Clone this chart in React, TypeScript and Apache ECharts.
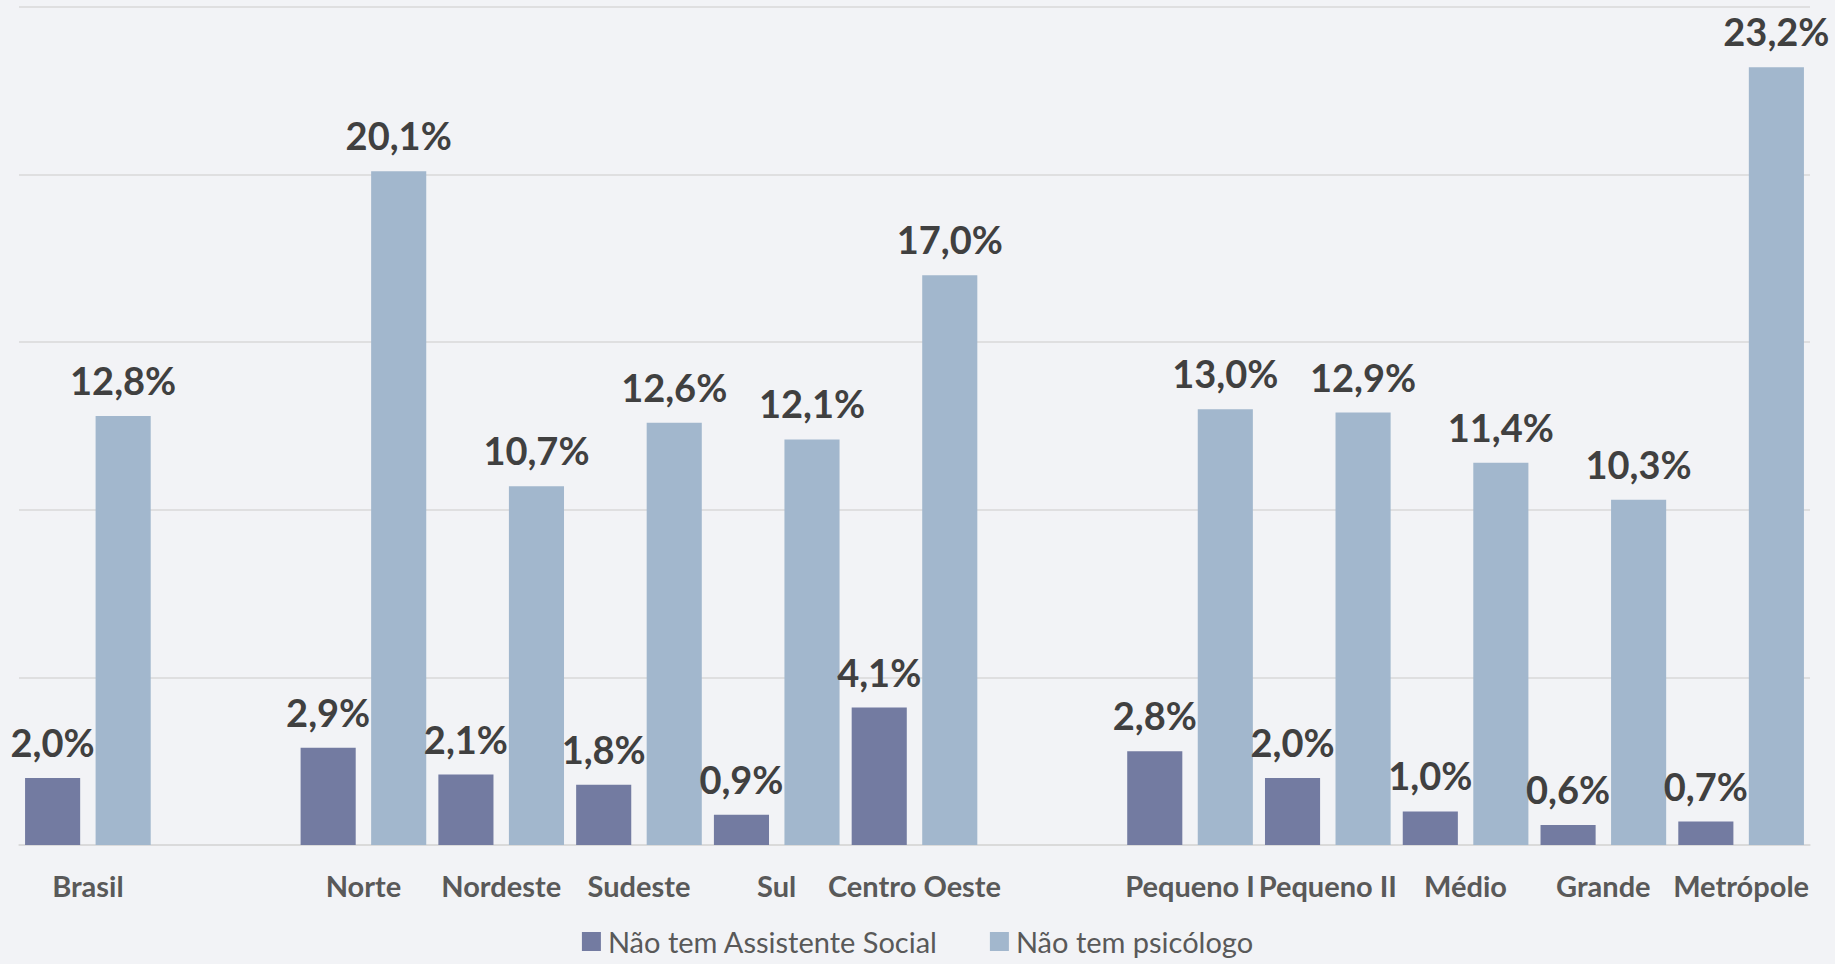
import React, { useEffect, useRef } from "react";
import * as echarts from "echarts";

const categories = [
  "Brasil",
  "",
  "Norte",
  "Nordeste",
  "Sudeste",
  "Sul",
  "Centro Oeste",
  "",
  "Pequeno I",
  "Pequeno II",
  "Médio",
  "Grande",
  "Metrópole",
];

const assistenteSocial: (number | null)[] = [2.0, null, 2.9, 2.1, 1.8, 0.9, 4.1, null, 2.8, 2.0, 1.0, 0.6, 0.7];
const psicologo: (number | null)[] = [12.8, null, 20.1, 10.7, 12.6, 12.1, 17.0, null, 13.0, 12.9, 11.4, 10.3, 23.2];

const seriesNames = ["Não tem Assistente Social", "Não tem psicólogo"];

const FONT = "Lato, 'Open Sans', sans-serif";

const fmt = (p: any) =>
  p.value == null ? "" : Number(p.value).toFixed(1).replace(".", ",") + "%";

export default function App() {
  const ref = useRef<HTMLDivElement>(null);

  useEffect(() => {
    document.body.style.margin = "0";
    if (!ref.current) return;
    const chart = echarts.init(ref.current, null, { renderer: "svg" });
    const labelCfg = {
      show: true,
      position: "top" as const,
      distance: 17,
      formatter: fmt,
      fontFamily: FONT,
      fontWeight: "bold" as const,
      fontSize: 38,
      color: "#404040",
    };
    chart.setOption({
      animation: false,
      backgroundColor: "#f2f3f6",
      grid: { left: 19, right: 25, top: 7, bottom: 119, containLabel: false },
      legend: {
        data: seriesNames,
        top: 927,
        left: "center",
        padding: 0,
        itemWidth: 19,
        itemHeight: 19,
        itemGap: 52,
        icon: "rect",
        textStyle: { fontFamily: FONT, fontSize: 29, color: "#595959", padding: [0, 0, 0, 2] },
      },
      xAxis: {
        type: "category",
        data: categories,
        axisTick: { show: false },
        axisLine: { lineStyle: { color: "#d9d9d9", width: 1.5 } },
        axisLabel: {
          interval: 0,
          margin: 26,
          fontFamily: FONT,
          fontWeight: "bold",
          fontSize: 29,
          color: "#595959",
        },
      },
      yAxis: {
        type: "value",
        min: 0,
        max: 25,
        interval: 5,
        axisLabel: { show: false },
        axisLine: { show: false },
        axisTick: { show: false },
        splitLine: { lineStyle: { color: "#d9d9d9", width: 1.5 } },
      },
      series: [
        {
          name: seriesNames[0],
          type: "bar",
          data: assistenteSocial,
          barWidth: "40%",
          barGap: "28%",
          itemStyle: { color: "#737ba1" },
          label: labelCfg,
        },
        {
          name: seriesNames[1],
          type: "bar",
          data: psicologo,
          barWidth: "40%",
          barGap: "28%",
          itemStyle: { color: "#a2b7cd" },
          label: labelCfg,
        },
      ],
    });
    return () => chart.dispose();
  }, []);

  return <div ref={ref} style={{ width: 1835, height: 964 }} />;
}
